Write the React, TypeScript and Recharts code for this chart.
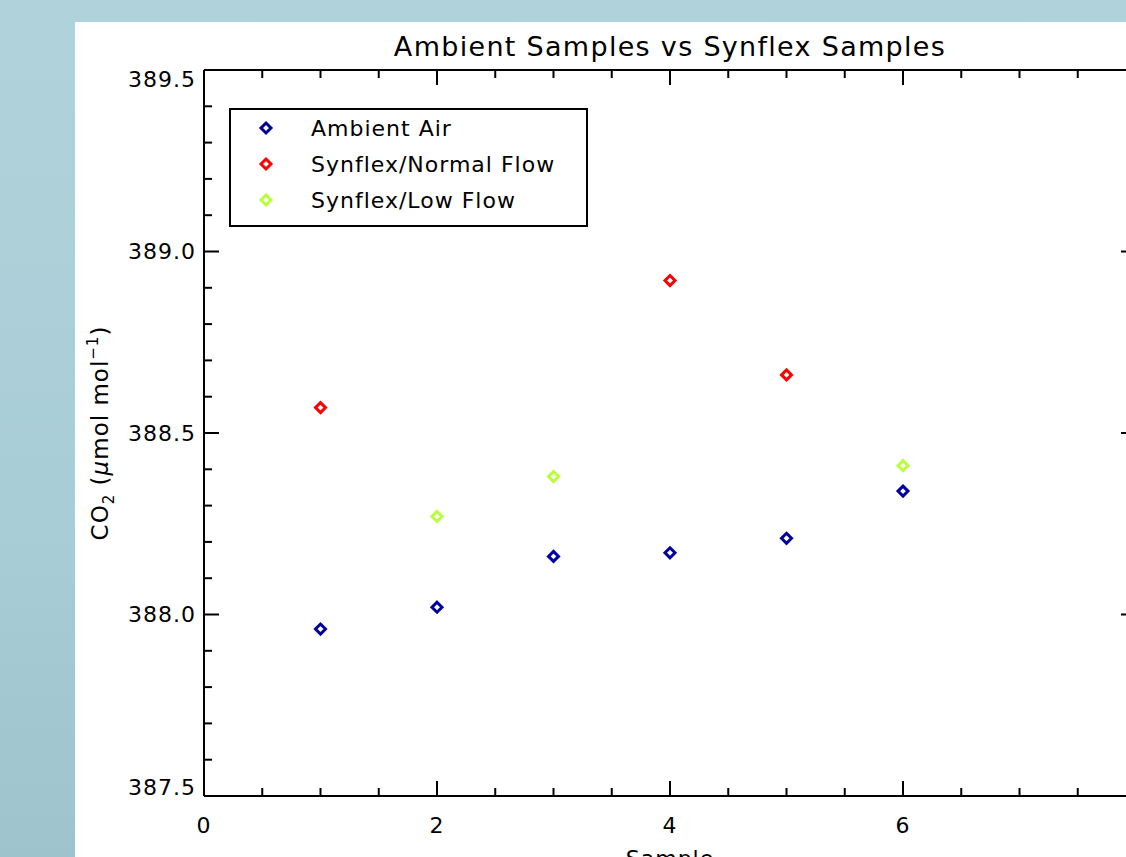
import { ScatterChart, Scatter, XAxis, YAxis } from "recharts"

const ambientX = [1, 2, 3, 4, 5, 6]
const ambientY = [387.96, 388.02, 388.16, 388.17, 388.21, 388.34]
const normalX = [1, 4, 5]
const normalY = [388.57, 388.92, 388.66]
const lowX = [2, 3, 6]
const lowY = [388.27, 388.38, 388.41]

const xTicks = [0, 0.5, 1, 1.5, 2, 2.5, 3, 3.5, 4, 4.5, 5, 5.5, 6, 6.5, 7, 7.5, 8]
const xMajor = [0, 2, 4, 6, 8]
const xLabels = [0, 2, 4, 6]
const yTicks = [
  387.5, 387.6, 387.7, 387.8, 387.9, 388.0, 388.1, 388.2, 388.3, 388.4, 388.5,
  388.6, 388.7, 388.8, 388.9, 389.0, 389.1, 389.2, 389.3, 389.4, 389.5,
]
const yLabels = [387.5, 388.0, 388.5, 389.0, 389.5]

const series = [
  { name: "Ambient Air", color: "#0000a0", xs: ambientX, ys: ambientY },
  { name: "Synflex/Normal Flow", color: "#ff0000", xs: normalX, ys: normalY },
  { name: "Synflex/Low Flow", color: "#b8ff3a", xs: lowX, ys: lowY },
]

const FONT = "'DejaVu Sans', sans-serif"

function Diamond({ cx, cy, fill }: any) {
  const r = 5
  return (
    <polygon
      points={`${cx},${cy - r} ${cx + r},${cy} ${cx},${cy + r} ${cx - r},${cy}`}
      fill="none"
      stroke={fill}
      strokeWidth={3}
    />
  )
}

const has = (list: number[], v: number) => list.some((l) => Math.abs(l - v) < 1e-6)

function makeTick(side: string, majors: number[], labels: number[]) {
  return (props: any) => {
    const { x, y, payload } = props
    const v = payload.value
    const len = has(majors, v) ? 15 : 8
    let line
    let text = null
    if (side === "bottom") {
      line = <line x1={x} y1={y} x2={x} y2={y - len} stroke="#000" strokeWidth={2} />
      if (has(labels, v))
        text = (
          <text x={x} y={y + 37} textAnchor="middle" fontSize={22} letterSpacing={1} fontFamily={FONT} fill="#000">
            {v}
          </text>
        )
    } else if (side === "top") {
      line = <line x1={x} y1={y} x2={x} y2={y + len} stroke="#000" strokeWidth={2} />
    } else if (side === "left") {
      line = <line x1={x} y1={y} x2={x + len} y2={y} stroke="#000" strokeWidth={2} />
      const shift = v === yLabels[0] ? -9 : v === yLabels[yLabels.length - 1] ? 9 : 0
      if (has(labels, v))
        text = (
          <text x={x - 8} y={y + shift} dy="0.36em" textAnchor="end" fontSize={22} letterSpacing={1} fontFamily={FONT} fill="#000">
            {v.toFixed(1)}
          </text>
        )
    } else {
      line = <line x1={x} y1={y} x2={x - len} y2={y} stroke="#000" strokeWidth={2} />
    }
    return (
      <g>
        {line}
        {text}
      </g>
    )
  }
}

function YTitle({ viewBox }: any) {
  const cy = viewBox.y + viewBox.height / 2
  const x = 108
  return (
    <text
      x={x}
      y={cy}
      transform={`rotate(-90 ${x} ${cy})`}
      textAnchor="middle"
      fontSize={23}
      letterSpacing={1}
      fontFamily={FONT}
      fill="#000"
    >
      CO
      <tspan fontSize={15} dy={6}>2</tspan>
      <tspan dy={-6}> (</tspan>
      <tspan fontStyle="italic">μ</tspan>
      <tspan>mol mol</tspan>
      <tspan fontSize={15} dy={-10}>−1</tspan>
      <tspan dy={10}>)</tspan>
    </text>
  )
}

function XTitle({ viewBox }: any) {
  return (
    <text x={viewBox.x + viewBox.width / 2} y={866} textAnchor="middle" fontSize={22} letterSpacing={1} fontFamily={FONT} fill="#000">
      Sample
    </text>
  )
}

const axisLine = { stroke: "#000", strokeWidth: 2 }

export default function App() {
  return (
    <div
      style={{
        position: "fixed",
        left: 0,
        top: 0,
        width: 1126,
        height: 857,
        overflow: "hidden",
        background: "linear-gradient(to bottom, #b0d3db 0%, #a9cdd6 60%, #9fc3cc 100%)",
      }}
    >
      <div style={{ position: "absolute", left: 75, top: 22, right: 0, bottom: 0, background: "#fff" }} />
      <div
        style={{
          position: "absolute",
          left: 0,
          top: 30,
          width: 1340,
          textAlign: "center",
          fontFamily: FONT,
          fontSize: 27,
          letterSpacing: 1.3,
          lineHeight: "34px",
          color: "#000",
        }}
      >
        Ambient Samples vs Synflex Samples
      </div>
      <div style={{ position: "absolute", left: 0, top: 0 }}>
        <ScatterChart width={1180} height={900} margin={{ top: 69, right: 43, left: 0, bottom: 0 }}>
          <XAxis
            xAxisId="bottom"
            type="number"
            dataKey="x"
            domain={[0, 8]}
            ticks={xTicks}
            interval={0}
            height={104}
            allowDataOverflow
            axisLine={axisLine}
            tickLine={false}
            tickSize={0}
            tickMargin={0}
            tick={makeTick("bottom", xMajor, xLabels)}
            label={{ content: <XTitle /> }}
          />
          <XAxis
            xAxisId="top"
            orientation="top"
            type="number"
            dataKey="x"
            domain={[0, 8]}
            ticks={xTicks}
            interval={0}
            height={1}
            allowDataOverflow
            axisLine={axisLine}
            tickLine={false}
            tickSize={0}
            tickMargin={0}
            tick={makeTick("top", xMajor, [])}
          />
          <YAxis
            yAxisId="left"
            type="number"
            dataKey="y"
            domain={[387.5, 389.5]}
            ticks={yTicks}
            interval={0}
            width={204}
            allowDataOverflow
            axisLine={axisLine}
            tickLine={false}
            tickSize={0}
            tickMargin={0}
            tick={makeTick("left", yLabels, yLabels)}
            label={{ content: <YTitle /> }}
          />
          <YAxis
            yAxisId="right"
            orientation="right"
            type="number"
            dataKey="y"
            domain={[387.5, 389.5]}
            ticks={yTicks}
            interval={0}
            width={1}
            allowDataOverflow
            axisLine={axisLine}
            tickLine={false}
            tickSize={0}
            tickMargin={0}
            tick={makeTick("right", yLabels, [])}
          />
          {series.map((s) => (
            <Scatter
              key={s.name}
              name={s.name}
              xAxisId="bottom"
              yAxisId="left"
              data={s.xs.map((x, i) => ({ x, y: s.ys[i] }))}
              fill={s.color}
              shape={<Diamond />}
              isAnimationActive={false}
            />
          ))}
          <Scatter xAxisId="top" yAxisId="right" data={[]} isAnimationActive={false} legendType="none" />
        </ScatterChart>
      </div>
      <div
        style={{
          position: "absolute",
          left: 229,
          top: 108,
          width: 355,
          height: 115,
          border: "2px solid #000",
          background: "#fff",
          fontFamily: FONT,
          fontSize: 22,
          letterSpacing: 1,
        }}
      >
        {series.map((s, i) => (
          <div key={s.name} style={{ position: "absolute", left: 0, top: i * 36, height: 36, display: "flex", alignItems: "center" }}>
            <svg width={80} height={36} style={{ display: "block" }}>
              <Diamond cx={35} cy={18} fill={s.color} />
            </svg>
            <span style={{ whiteSpace: "nowrap" }}>{s.name}</span>
          </div>
        ))}
      </div>
    </div>
  )
}
